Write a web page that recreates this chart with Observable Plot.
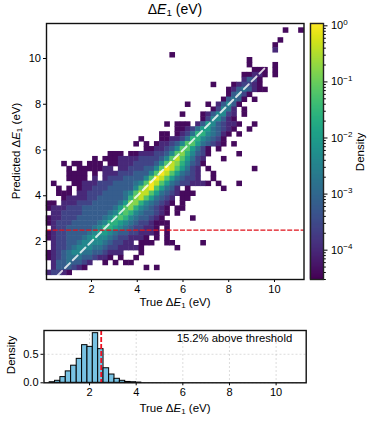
<!DOCTYPE html>
<html>
<head>
<meta charset="utf-8">
<script src="https://cdn.jsdelivr.net/npm/d3@7"></script>
<script src="https://cdn.jsdelivr.net/npm/@observablehq/plot@0.6"></script>
<style>
html,body{margin:0;padding:0;background:#fff;}
#c{position:relative;width:374px;height:422px;overflow:hidden;font-family:"Liberation Sans",Arial,sans-serif;color:#000;}
#c svg{position:absolute;overflow:visible;}
.t{position:absolute;white-space:nowrap;transform:translate(-50%,-50%);font-size:11px;line-height:1;}
.t sub{font-size:0.7em;line-height:0;vertical-align:-0.2em;}
.r{transform:translate(-50%,-50%) rotate(-90deg);}
</style>
</head>
<body>
<div id="c"></div>
<script>
// density rows, top to bottom: [first column, levels]; "." = empty bin, 0..b = colour level
const densityRows = [
[46,"0..0"],[0,""],[45,"0"],[44,"0"],[44,"1"],[24,"0"],[39,"0"],[39,"0....0"],
[40,"000.0"],[38,"00110.0"],[38,"1320"],[32,"0...012210"],[35,"01343100"],[35,"03420"],
[34,"03430.0"],[27,"0...0.13530"],[32,"02541.0"],[26,"0...0135521.0"],[30,"0255310"],
[23,"0.000.136532110..0"],[25,"001246643210..0"],[22,"00.01247754310.0"],
[18,"0...0011247754320"],[17,"0.0.01123588643210.0"],[19,"0011235886420.0"],
[12,"000.0011122358975320.....0"],[9,"0.00011112222358a86421...0"],
[3,"0.00.000.001112222358a975320"],[4,"0.0000011.112223358ba86421.0........0"],
[4,"0000.0.11122233358ba864321..0"],[4,"0000.1.1222333358ba8643221..0"],
[1,"0...001112223333458ba8643221110.0...0"],[2,"0.0.0112223333358ab86431.0......0"],
[2,"000.112223333458aa864321000"],[3,"011112233333479a864321.00"],
[0,"00.1112223333346997543210.0"],[0,"011122233333346897543210.00"],
[1,"11222233333457875433210.0"],[0,"01122233333457875433210.....0"],
[0,"012223333345776543221000"],[1,"122333334577654322110.0"],
[0,"0122333345665433221110.0"],[0,"01223334565543221110.0.0"],
[1,"1223345555432211.000..00.....0"],[1,"122345554432211110......0"],
[0,"012345544332111...0"],[0,"0123444332110.0..0"],[1,"13343321..0.0.00"],
[1,"1333210...........0.0"],[0,"12210"]
];
const xBinStart = 0.033, xBinWidth = 0.2252, yBinTop = 11.33, yBinHeight = 0.2162;
const levelLogs = [-4.4,-4.0,-3.6,-3.2,-2.8,-2.4,-2.0,-1.6,-1.2,-0.8,-0.4,0];
const threshold = 2.5;
const diagonal = [0.5, 9.8];
const xTicks = [2,4,6,8,10];
const yTicks = [2,4,6,8,10];
const histEdges = [0.29,0.52,0.75,0.98,1.21,1.45,1.68,1.91,2.14,2.37,2.60,2.84,3.07,3.30,3.53,3.76,3.99,4.22];
const histValues = [0.01,0.035,0.1,0.2,0.3,0.42,0.66,0.63,0.87,0.59,0.255,0.145,0.07,0.035,0.015,0.01,0.004];
const histYTicks = [0,0.5];
const cbMajor = [1,1e-1,1e-2,1e-3,1e-4];
const cbExponents = ["0","−1","−2","−3","−4"];
const colorDomain = [3e-5,1.1];

const cells = [];
densityRows.forEach(([start, s], r) => {
  [...s].forEach((ch, i) => {
    if (ch === ".") return;
    const c = start + i;
    cells.push({
      x1: xBinStart + c * xBinWidth, x2: xBinStart + (c + 1) * xBinWidth,
      y1: yBinTop - (r + 1) * yBinHeight, y2: yBinTop - r * yBinHeight,
      density: Math.pow(10, levelLogs[parseInt(ch, 16)])
    });
  });
});
const font = '"Liberation Sans",Arial,sans-serif';
const baseStyle = {fontFamily: font, fontSize: "11px", background: "transparent", overflow: "visible", color: "#000"};
const colorScale = {type: "log", scheme: "viridis", domain: colorDomain};
const frameColor = "#111";

const main = Plot.plot({
  width: 310, height: 300, marginLeft: 46, marginRight: 6.5, marginTop: 23, marginBottom: 21,
  style: baseStyle,
  x: {domain: [0.033, 11.29]}, y: {domain: [0.34, 11.53]}, color: colorScale,
  marks: [
    Plot.rect(cells, {x1: "x1", x2: "x2", y1: "y1", y2: "y2", fill: "density", inset: -0.25}),
    Plot.line(diagonal.map(v => ({x: v, y: v})), {x: "x", y: "y", stroke: "#fff", strokeOpacity: 0.8, strokeWidth: 2, strokeDasharray: "7,4"}),
    Plot.ruleY([threshold], {stroke: "#e0101a", strokeWidth: 1.3, strokeDasharray: "5,1.7"}),
    Plot.axisX({ticks: xTicks, label: null, tickSize: 3, tickPadding: 2.5}),
    Plot.axisY({ticks: yTicks, label: null, tickSize: 3, tickPadding: 2.5}),
    Plot.frame({stroke: frameColor, strokeWidth: 1.4})
  ]
});
main.style.left = "0px"; main.style.top = "0px";

const histRows = histValues.map((v, i) => ({x1: histEdges[i], x2: histEdges[i + 1], v}));
const hist = Plot.plot({
  width: 310, height: 80, marginLeft: 43.5, marginRight: 4.3, marginTop: 10, marginBottom: 17.7,
  style: baseStyle,
  x: {domain: [0.047, 11.29]}, y: {domain: [0, 0.917]},
  marks: [
    Plot.gridX(xTicks, {stroke: "#bbb", strokeOpacity: 0.5, strokeDasharray: "2,2"}),
    Plot.gridY(histYTicks, {stroke: "#bbb", strokeOpacity: 0.5, strokeDasharray: "2,2"}),
    Plot.rectY(histRows, {x1: "x1", x2: "x2", y: "v", fill: "#78c2e3", stroke: "#000", strokeWidth: 1}),
    Plot.ruleX([threshold], {stroke: "#f01020", strokeWidth: 1.8, strokeDasharray: "5,2"}),
    Plot.axisX({ticks: xTicks, label: null, tickSize: 3, tickPadding: 2.5}),
    Plot.axisY({ticks: histYTicks, label: null, tickSize: 3, tickPadding: 2.5, tickFormat: d3.format(".1f")}),
    Plot.text(["15.2% above threshold"], {frameAnchor: "top-right", dx: -14, dy: 3, fontSize: 11.3, fill: "#000"}),
    Plot.frame({stroke: frameColor, strokeWidth: 1.4})
  ]
});
hist.style.left = "0px"; hist.style.top = "320px";

const minor = [];
[1e-5,1e-4,1e-3,1e-2,1e-1].forEach(d => [2,3,4,5,6,7,8,9].forEach(m => { if (d*m >= colorDomain[0] && d*m <= 1) minor.push(d*m); }));
const stops = d3.range(0, 256).map(i => {
  const a = Math.log10(colorDomain[0]), b = Math.log10(colorDomain[1]);
  const lo = Math.pow(10, a + (b - a) * i / 256), hi = Math.pow(10, a + (b - a) * (i + 1) / 256);
  return {lo, hi, mid: Math.sqrt(lo * hi)};
});
const cb = Plot.plot({
  width: 74, height: 300, marginLeft: 10, marginRight: 51, marginTop: 23, marginBottom: 21,
  style: baseStyle,
  x: {domain: [0, 1], axis: null},
  y: {type: "log", domain: colorDomain},
  color: colorScale,
  marks: [
    Plot.rect(stops, {x1: 0, x2: 1, y1: "lo", y2: "hi", fill: "mid", inset: -0.2}),
    Plot.axisY({anchor: "right", ticks: minor, tickSize: 1.8, tickFormat: () => "", label: null}),
    Plot.axisY({anchor: "right", ticks: cbMajor, tickSize: 3.5, tickPadding: 4, label: null, tickFormat: () => "10"}),
    Plot.frame({stroke: "#222", strokeWidth: 1.4})
  ]
});
cb.style.left = "300px"; cb.style.top = "0px";
// exponents of the colour bar tick labels as real superscripts
const cbLabels = Array.from(cb.querySelectorAll('g[aria-label="y-axis tick label"] text')).filter(t => t.textContent === "10");
cbLabels.forEach((t, i) => {
  t.textContent = "";
  const ns = "http://www.w3.org/2000/svg";
  const a = document.createElementNS(ns, "tspan"); a.textContent = "10";
  const b = document.createElementNS(ns, "tspan"); b.textContent = cbExponents[i];
  b.setAttribute("font-size", "8"); b.setAttribute("dy", "-0.55em");
  t.appendChild(a); t.appendChild(b);
});

const root = document.getElementById("c");
root.append(main, hist, cb);
function label(html, x, y, size, rot) {
  const d = document.createElement("div");
  d.className = "t" + (rot ? " r" : "");
  d.style.left = x + "px"; d.style.top = y + "px"; d.style.fontSize = size + "px";
  d.innerHTML = html;
  root.appendChild(d);
}
const dE = 'Δ<i>E</i><sub>1</sub>';
label(dE + ' (eV)', 175, 9, 14);
label('True ' + dE + ' (eV)', 175, 303, 11.5);
label('Predicted ' + dE + ' (eV)', 17, 151, 11.5, true);
label('Density', 361, 152, 11.5, true);
label('Density', 12, 355, 11.5, true);
label('True ' + dE + ' (eV)', 175, 409, 11.5);
</script>
</body>
</html>
